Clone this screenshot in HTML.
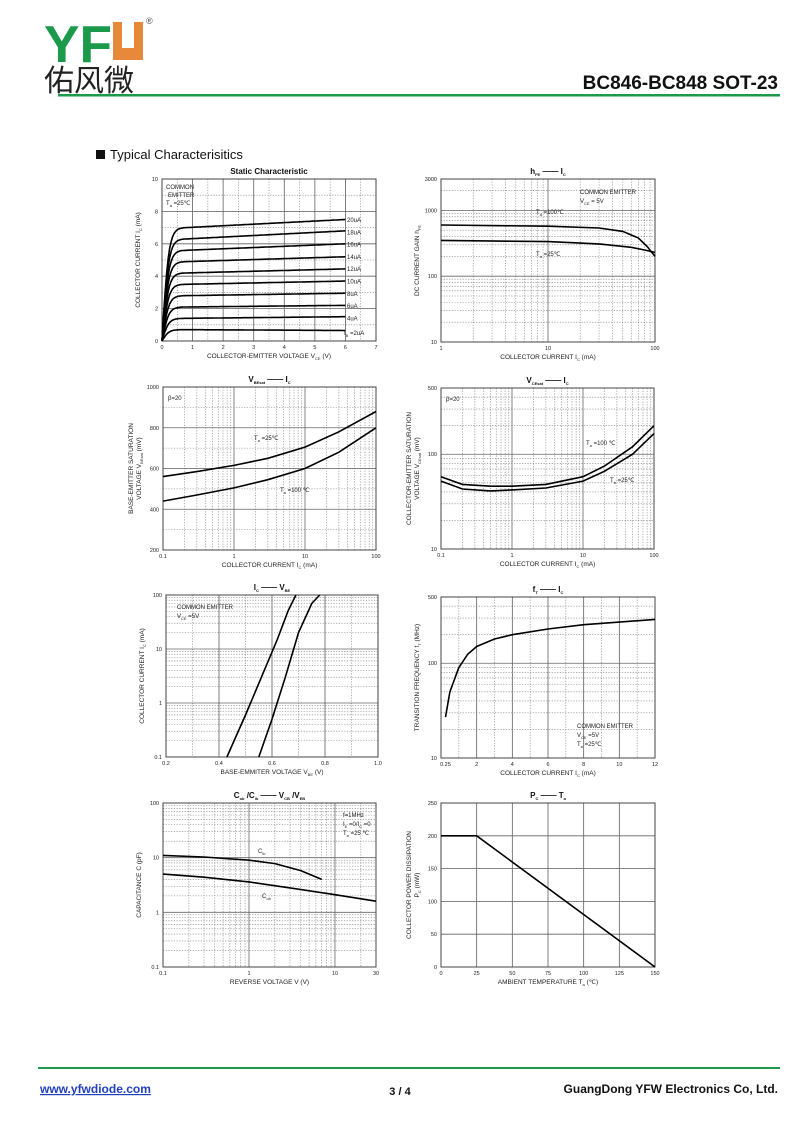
<!DOCTYPE html>
<html><head><meta charset="utf-8"><style>
body{margin:0;background:#fff;width:800px;height:1130px;overflow:hidden;font-family:"Liberation Sans",Arial,sans-serif}
svg text{font-family:"Liberation Sans",Arial,sans-serif}
</style></head><body>
<svg id="s" width="800" height="1130" xmlns="http://www.w3.org/2000/svg">
<text x="44" y="62" font-size="52" font-weight="bold" fill="#1a9a4a" textLength="68" lengthAdjust="spacingAndGlyphs">YF</text>
<rect x="113" y="22" width="30" height="38" fill="#e8883a"/>
<rect x="122" y="22" width="12" height="26" fill="#fff"/>
<text x="146" y="24" font-size="9" fill="#555">®</text>
<text x="44" y="91" font-size="30" font-family="Noto Sans CJK SC,sans-serif" fill="#222" style="font-family:'Noto Sans CJK SC','WenQuanYi Zen Hei',sans-serif">佑风微</text>
<text x="778" y="89" font-size="19" font-weight="bold" text-anchor="end" fill="#111">BC846-BC848  SOT-23</text>
<rect x="58" y="94" width="722" height="2.5" fill="#1a9a4a"/>
<rect x="96" y="150" width="9" height="9" fill="#111"/>
<text x="110" y="159" font-size="13" fill="#111">Typical  Characterisitics</text>
<rect x="38" y="1067" width="742" height="2" fill="#1a9a4a"/>
<text x="40" y="1093" font-size="12" font-weight="bold" fill="#2040c0" text-decoration="underline">www.yfwdiode.com</text>
<text x="400" y="1095" font-size="11" font-weight="bold" text-anchor="middle" fill="#111">3 / 4</text>
<text x="778" y="1093" font-size="12" font-weight="bold" text-anchor="end" fill="#111">GuangDong YFW Electronics Co, Ltd.</text>
<g id="g"></g>
</svg>
<script>
var out='';
function L(v){return Math.log10(v);}
function mk(c){
 // c: x0,y0,x1,y1, xs:{type,min,max}, ys
 function sx(v){return c.xs.log? c.x0+(L(v)-L(c.xs.min))/(L(c.xs.max)-L(c.xs.min))*(c.x1-c.x0) : c.x0+(v-c.xs.min)/(c.xs.max-c.xs.min)*(c.x1-c.x0);}
 function sy(v){return c.ys.log? c.y1-(L(v)-L(c.ys.min))/(L(c.ys.max)-L(c.ys.min))*(c.y1-c.y0) : c.y1-(v-c.ys.min)/(c.ys.max-c.ys.min)*(c.y1-c.y0);}
 c.sx=sx;c.sy=sy;
 function grid(s,isX){
  var minor=[],major=[];
  if(s.log){for(var d=Math.floor(L(s.min));d<Math.ceil(L(s.max));d++){for(var k=1;k<10;k++){var v=k*Math.pow(10,d);if(v<s.min-1e-9||v>s.max+1e-9)continue;(k==1?major:minor).push(v);}}}
  else{for(var v=s.min;v<=s.max+1e-9;v+=s.minor)minor.push(v);for(var v=s.min;v<=s.max+1e-9;v+=s.major)major.push(v);}
  minor.forEach(function(v){if(isX){var p=sx(v);out+='<line x1="'+p+'" y1="'+c.y0+'" x2="'+p+'" y2="'+c.y1+'" stroke="#777" stroke-width="0.6" stroke-dasharray="1.2,1.5"/>';}else{var p=sy(v);out+='<line x1="'+c.x0+'" y1="'+p+'" x2="'+c.x1+'" y2="'+p+'" stroke="#777" stroke-width="0.6" stroke-dasharray="1.2,1.5"/>';}});
  major.forEach(function(v){if(isX){var p=sx(v);out+='<line x1="'+p+'" y1="'+c.y0+'" x2="'+p+'" y2="'+c.y1+'" stroke="#666" stroke-width="0.8"/>';}else{var p=sy(v);out+='<line x1="'+c.x0+'" y1="'+p+'" x2="'+c.x1+'" y2="'+p+'" stroke="#666" stroke-width="0.8"/>';}});
 }
 grid(c.xs,true);grid(c.ys,false);
 out+='<rect x="'+c.x0+'" y="'+c.y0+'" width="'+(c.x1-c.x0)+'" height="'+(c.y1-c.y0)+'" fill="none" stroke="#444" stroke-width="1"/>';
 c.xt.forEach(function(t){out+='<text x="'+sx(t[0])+'" y="'+(c.y1+8)+'" font-size="5.5" text-anchor="middle" fill="#222">'+t[1]+'</text>';});
 c.yt.forEach(function(t){out+='<text x="'+(c.x0-4)+'" y="'+(sy(t[0])+2)+'" font-size="5.5" text-anchor="end" fill="#222">'+t[1]+'</text>';});
 out+='<text x="'+((c.x0+c.x1)/2)+'" y="'+(c.y1+17)+'" font-size="6.5" text-anchor="middle" fill="#222">'+c.xl+'</text>';
 var cy=(c.y0+c.y1)/2;
 c.yl.forEach(function(l,i){out+='<text transform="translate('+(c.x0-22+i*8-(c.yl.length-1)*8)+','+cy+') rotate(-90)" font-size="6.5" text-anchor="middle" fill="#222">'+l+'</text>';});
 out+='<text x="'+((c.x0+c.x1)/2)+'" y="'+(c.y0-5)+'" font-size="8" font-weight="bold" text-anchor="middle" fill="#111">'+c.t+'</text>';
 (c.txt||[]).forEach(function(t){out+='<text x="'+t[0]+'" y="'+t[1]+'" font-size="'+(t[3]||6)+'" fill="#222">'+t[2]+'</text>';});
 (c.curves||[]).forEach(function(pts){var d='';pts.forEach(function(p,i){d+=(i?'L':'M')+sx(p[0]).toFixed(1)+','+sy(p[1]).toFixed(1);});out+='<path d="'+d+'" fill="none" stroke="#000" stroke-width="1.6"/>';});
 (c.fn||[]).forEach(function(f){var d='';for(var i=0;i<=80;i++){var x=c.x0+(c.x1-c.x0)*i/80;var p=f(x);if(p==null)continue;d+=(d?'L':'M')+x.toFixed(1)+','+p.toFixed(1);}out+='<path d="'+d+'" fill="none" stroke="#000" stroke-width="1.6"/>';});
}
function sub(a,b){return a+'<tspan font-size="4" dy="2">'+b+'</tspan><tspan dy="-2"> </tspan>';}
// Chart1
var ib=[[0.7,0.65],[1.4,1.5],[2.1,2.2],[2.8,2.95],[3.5,3.7],[4.2,4.45],[4.9,5.2],[5.6,6.0],[6.3,6.8],[7.0,7.5]];
var c1curves=ib.map(function(a){var p=[];for(var v=0;v<=6.001;v+=0.05){var y=v<0.8?a[0]*Math.tanh(v/(0.22+0.0*a[0]))/Math.tanh(0.8/0.22):a[0]+(a[1]-a[0])*(v-0.8)/5.2;p.push([v,y]);}return p;});
mk({x0:162,y0:179,x1:376,y1:341,xs:{min:0,max:7,major:1,minor:0.5},ys:{min:0,max:10,major:2,minor:1},
xt:[[0,'0'],[1,'1'],[2,'2'],[3,'3'],[4,'4'],[5,'5'],[6,'6'],[7,'7']],yt:[[0,'0'],[2,'2'],[4,'4'],[6,'6'],[8,'8'],[10,'10']],
xl:'COLLECTOR-EMITTER VOLTAGE   '+sub('V','CE')+' (V)',yl:['COLLECTOR CURRENT   '+sub('I','C')+'  (mA)'],t:'Static Characteristic',
txt:[[166,189,'COMMON'],[168,197,'EMITTER'],[166,205,sub('T','a')+'=25℃']].concat(['20uA','18uA','16uA','14uA','12uA','10uA','8uA','6uA','4uA'].map(function(s,i){return [347,222+i*12.3,s];})).concat([[344,335,sub('I','B')+'=2uA']]),
curves:c1curves});
// Chart2
mk({x0:441,y0:179,x1:655,y1:342,xs:{log:1,min:1,max:100},ys:{log:1,min:10,max:3000},
xt:[[1,'1'],[10,'10'],[100,'100']],yt:[[10,'10'],[100,'100'],[1000,'1000'],[3000,'3000']],
xl:'COLLECTOR CURRENT    '+sub('I','C')+'  (mA)',yl:['DC CURRENT GAIN   '+sub('h','FE')],t:sub('h','FE')+'  ——   '+sub('I','C'),
txt:[[580,194,'COMMON EMITTER'],[580,203,sub('V','CE')+'= 5V'],[536,214,sub('T','a')+'=100℃'],[536,256,sub('T','a')+'=25℃']],
curves:[[[1,600],[10,575],[30,540],[50,480],[70,380],[85,280],[100,200]],[[1,350],[10,335],[30,310],[60,275],[80,250],[100,230]]]});
// Chart3
mk({x0:163,y0:387,x1:376,y1:550,xs:{log:1,min:0.1,max:100},ys:{min:200,max:1000,major:200,minor:100},
xt:[[0.1,'0.1'],[1,'1'],[10,'10'],[100,'100']],yt:[[200,'200'],[400,'400'],[600,'600'],[800,'800'],[1000,'1000']],
xl:'COLLECTOR CURRENT    '+sub('I','C')+'  (mA)',yl:['BASE-EMITTER SATURATION','VOLTAGE   '+sub('V','BEsat')+'  (mV)'],t:sub('V','BEsat')+'  ——   '+sub('I','C'),
txt:[[168,400,'β=20'],[254,440,sub('T','a')+'=25℃'],[280,492,sub('T','a')+'=100 ℃']],
curves:[[[0.1,560],[0.3,585],[1,615],[3,650],[10,705],[30,780],[100,880]],[[0.1,440],[0.3,470],[1,505],[3,545],[10,600],[30,680],[100,800]]]});
// Chart4
mk({x0:441,y0:388,x1:654,y1:549,xs:{log:1,min:0.1,max:100},ys:{log:1,min:10,max:500},
xt:[[0.1,'0.1'],[1,'1'],[10,'10'],[100,'100']],yt:[[10,'10'],[100,'100'],[500,'500']],
xl:'COLLECTOR CURRENT    '+sub('I','C')+'  (mA)',yl:['COLLECTOR-EMITTER SATURATION','VOLTAGE   '+sub('V','CEsat')+'  (mV)'],t:sub('V','CEsat')+'  ——   '+sub('I','C'),
txt:[[446,401,'β=20'],[586,445,sub('T','a')+'=100 ℃'],[610,482,sub('T','a')+'=25℃']],
curves:[[[0.1,58],[0.2,48],[0.5,46],[1,46],[3,48],[10,58],[20,75],[50,120],[100,200]],[[0.1,52],[0.2,43],[0.5,41],[1,42],[3,44],[10,52],[20,66],[50,100],[100,165]]]});
// Chart5
mk({x0:166,y0:595,x1:378,y1:757,xs:{min:0.2,max:1.0,major:0.2,minor:0.1},ys:{log:1,min:0.1,max:100},
xt:[[0.2,'0.2'],[0.4,'0.4'],[0.6,'0.6'],[0.8,'0.8'],[1.0,'1.0']],yt:[[0.1,'0.1'],[1,'1'],[10,'10'],[100,'100']],
xl:'BASE-EMMITER VOLTAGE   '+sub('V','BE')+' (V)',yl:['COLLECTOR CURRENT   '+sub('I','C')+'  (mA)'],t:sub('I','C')+'  ——   '+sub('V','BE'),
txt:[[177,609,'COMMON EMITTER'],[177,618,sub('V','CE')+'=5V']],
curves:[[[0.43,0.1],[0.5,0.6],[0.56,3],[0.62,15],[0.66,50],[0.69,100]],[[0.55,0.1],[0.6,0.5],[0.65,3],[0.7,20],[0.75,70],[0.78,100]]]});
// Chart6
mk({x0:441,y0:597,x1:655,y1:758,xs:{min:0,max:12,major:2,minor:1},ys:{log:1,min:10,max:500},
xt:[[0.25,'0.25'],[2,'2'],[4,'4'],[6,'6'],[8,'8'],[10,'10'],[12,'12']],yt:[[10,'10'],[100,'100'],[500,'500']],
xl:'COLLECTOR CURRENT    '+sub('I','C')+'  (mA)',yl:['TRANSITION FREQUENCY   '+sub('f','T')+'  (MHz)'],t:sub('f','T')+'  ——   '+sub('I','C'),
txt:[[577,728,'COMMON EMITTER'],[577,737,sub('V','CE')+'=5V'],[577,746,sub('T','a')+'=25℃']],
curves:[[[0.25,27],[0.5,50],[1,90],[1.5,125],[2,150],[3,180],[4,200],[6,230],[8,255],[10,272],[12,290]]]});
// Chart7
mk({x0:163,y0:803,x1:376,y1:967,xs:{log:1,min:0.1,max:30},ys:{log:1,min:0.1,max:100},
xt:[[0.1,'0.1'],[1,'1'],[10,'10'],[30,'30']],yt:[[0.1,'0.1'],[1,'1'],[10,'10'],[100,'100']],
xl:'REVERSE VOLTAGE   V   (V)',yl:['CAPACITANCE   C   (pF)'],t:sub('C','ob')+'/'+sub('C','ib')+'  ——   '+sub('V','CB')+'/'+sub('V','EB'),
txt:[[343,817,'f=1MHz'],[343,826,sub('I','E')+'=0/'+sub('I','C')+'=0'],[343,835,sub('T','a')+'=25 ℃'],[258,853,sub('C','ib')],[262,898,sub('C','ob')]],
curves:[[[0.1,11],[0.3,10.3],[1,9],[2,7.8],[4,5.8],[7,4]],[[0.1,5],[0.3,4.4],[1,3.6],[3,2.8],[10,2.1],[30,1.6]]]});
// Chart8
mk({x0:441,y0:803,x1:655,y1:967,xs:{min:0,max:150,major:25,minor:25},ys:{min:0,max:250,major:50,minor:50},
xt:[[0,'0'],[25,'25'],[50,'50'],[75,'75'],[100,'100'],[125,'125'],[150,'150']],yt:[[0,'0'],[50,'50'],[100,'100'],[150,'150'],[200,'200'],[250,'250']],
xl:'AMBIENT TEMPERATURE   '+sub('T','a')+'  (℃)',yl:['COLLECTOR POWER DISSIPATION','  '+sub('P','C')+'  (mW)'],t:sub('P','C')+'  ——   '+sub('T','a'),
curves:[[[0,200],[25,200],[150,0]]]});
document.getElementById('g').innerHTML=out;
</script>
</body></html>
